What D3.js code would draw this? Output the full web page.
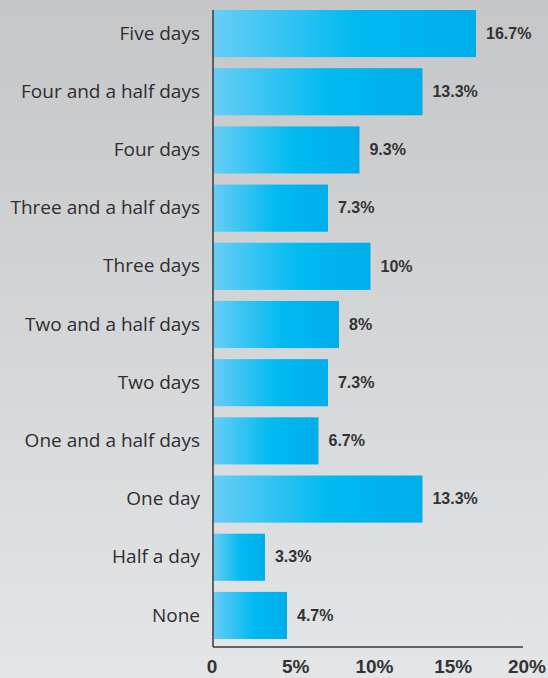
<!DOCTYPE html>
<html>
<head>
<meta charset="utf-8">
<script src="https://cdn.jsdelivr.net/npm/d3@7"></script>
<style>
  html, body { margin: 0; padding: 0; }
  svg { display: block; }
</style>
</head>
<body>
<svg id="chart" width="548" height="678"></svg>
<script>
// Share of respondents by number of days
const categories = [
  "Five days", "Four and a half days", "Four days", "Three and a half days",
  "Three days", "Two and a half days", "Two days", "One and a half days",
  "One day", "Half a day", "None"
];
const values = [16.7, 13.3, 9.3, 7.3, 10, 8, 7.3, 6.7, 13.3, 3.3, 4.7];
const valueLabels = ["16.7%", "13.3%", "9.3%", "7.3%", "10%", "8%", "7.3%", "6.7%", "13.3%", "3.3%", "4.7%"];
const tickValues = [0, 5, 10, 15, 20];
const tickLabels = ["0", "5%", "10%", "15%", "20%"];

const W = 548, H = 678;
const svg = d3.select("#chart");
const defs = svg.append("defs");

// page background: grey fading lighter toward the bottom
const bg = defs.append("linearGradient").attr("id", "bg")
  .attr("x1", 0).attr("y1", 0).attr("x2", 0).attr("y2", 1);
bg.append("stop").attr("offset", "0%").attr("stop-color", "#c5c6c8");
bg.append("stop").attr("offset", "100%").attr("stop-color", "#e4e5e7");
svg.append("rect").attr("width", W).attr("height", H).attr("fill", "url(#bg)");

// bar fill: light cyan on the left to deeper blue on the right
const bar = defs.append("linearGradient").attr("id", "barFill")
  .attr("x1", 0).attr("y1", 0).attr("x2", 1).attr("y2", 0);
bar.append("stop").attr("offset", "0%").attr("stop-color", "#68cdf6");
bar.append("stop").attr("offset", "55%").attr("stop-color", "#00baf0");
bar.append("stop").attr("offset", "100%").attr("stop-color", "#00ade9");

const margin = { left: 213, top: 10 };
const x = d3.scaleLinear().domain([0, 20]).range([margin.left, margin.left + 315]);
const y = d3.scaleBand().domain(categories)
  .range([margin.top, 639]).paddingInner(0.19).paddingOuter(0);

// bars
svg.append("g").selectAll("rect")
  .data(categories)
  .join("rect")
  .attr("x", x(0))
  .attr("y", d => y(d))
  .attr("width", (d, i) => x(values[i]) - x(0))
  .attr("height", y.bandwidth())
  .attr("fill", "url(#barFill)");

// value labels
svg.append("g").selectAll("text")
  .data(categories)
  .join("text")
  .attr("x", (d, i) => x(values[i]) + 10)
  .attr("y", d => y(d) + y.bandwidth() / 2 + 1)
  .attr("dominant-baseline", "middle")
  .attr("font-family", "'Liberation Sans Narrow', 'Arial Narrow', Arial, sans-serif")
  .attr("font-weight", "bold")
  .attr("font-size", 16)
  .attr("fill", "#333")
  .text((d, i) => valueLabels[i]);

// category labels
svg.append("g").selectAll("text")
  .data(categories)
  .join("text")
  .attr("x", margin.left - 13)
  .attr("y", d => y(d) + y.bandwidth() / 2 + 1)
  .attr("dominant-baseline", "middle")
  .attr("text-anchor", "end")
  .attr("font-family", "'Open Sans', 'Noto Sans', sans-serif")
  .attr("font-size", 19)
  .attr("fill", "#2e2e30")
  .text(d => d);

// axes
const axisY = 647;
svg.append("line")
  .attr("x1", x(0)).attr("x2", x(0))
  .attr("y1", margin.top).attr("y2", axisY)
  .attr("stroke", "#3a3a3a").attr("stroke-width", 1.5);
svg.append("line")
  .attr("x1", x(0)).attr("x2", x(20) - 5)
  .attr("y1", axisY).attr("y2", axisY)
  .attr("stroke", "#3a3a3a").attr("stroke-width", 1.5);

svg.append("g").selectAll("text")
  .data(tickValues)
  .join("text")
  .attr("x", (d, i) => x(d) + (i === 0 ? -1 : (i === tickValues.length - 1 ? -1 : 4)))
  .attr("y", 673)
  .attr("text-anchor", "middle")
  .attr("font-family", "'Liberation Sans Narrow', 'Arial Narrow', Arial, sans-serif")
  .attr("font-weight", "bold")
  .attr("font-size", 19)
  .attr("fill", "#333")
  .text((d, i) => tickLabels[i]);
</script>
</body>
</html>
